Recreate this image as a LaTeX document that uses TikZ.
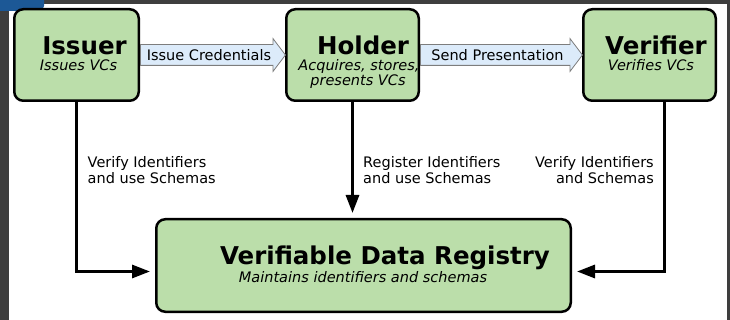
\documentclass[tikz,border=0pt]{standalone}
\usepackage{fontspec}
\setmainfont{DejaVu Sans}
\usetikzlibrary{shapes.arrows,arrows.meta}
\definecolor{boxgreen}{RGB}{187,222,170}
\definecolor{flowblue}{RGB}{220,235,250}
\definecolor{flowgray}{RGB}{125,125,125}
\definecolor{backdrop}{RGB}{62,62,62}
\definecolor{tabblue}{RGB}{28,88,150}

\begin{document}
\begin{tikzpicture}[x=1pt,y=-1pt]
	\tikzstyle{actor} = [draw,rectangle,rounded corners=9,line width=2.5pt,fill=boxgreen,minimum height=91.5,minimum width=132.5]
	\tikzstyle{title} = [anchor=base,inner sep=0,font=\fontsize{24.5}{28}\selectfont\bfseries]
	\tikzstyle{role} = [anchor=base,inner sep=0,font=\fontsize{14.5}{17}\selectfont\itshape]
	\tikzstyle{flow} = [single arrow,draw=flowgray,fill=flowblue,line width=0.8pt,anchor=tail,single arrow head extend=6,single arrow tip angle=106,text height=12,text depth=0.5,inner ysep=3.75,inner xsep=2,font=\fontsize{14.5}{17}\selectfont]
	\tikzstyle{note} = [inner sep=0,align=left,font=\fontsize{14.5}{15.5}\selectfont]
	\tikzstyle{conn} = [line width=3pt,-{Triangle[length=18pt,width=13pt]}]
	
	\useasboundingbox (0,0) rectangle (730,320);
	\fill[backdrop] (0,0) rectangle (730,320);
	\fill[white] (9,4) rectangle (727,320);
	\fill[tabblue,rounded corners=5] (-6,-6) rectangle (44,11);
	
	\node[actor,minimum width=124.5](issuer) at (76.5,55){};
	\node[actor](holder) at (352.5,55){};
	\node[actor](verifier) at (649.5,55){};
	\node[actor,minimum width=414.5,minimum height=92.5](vdr) at (363.5,265.5){};
	
	\node[title](issuer-t) at (84.5,55) {Issuer};
	\node[role](issuer-r) at (78.5,70.5) {Issues VCs};
	\node[title](holder-t) at (363,55) {Holder};
	\node[role](holder-r1) at (359,71) {Acquires, stores,};
	\node[role](holder-r2) at (358,86) {presents VCs};
	\node[title](verifier-t) at (656,55) {Verifier};
	\node[role](verifier-r) at (651,70.5) {Verifies VCs};
	\node[title](vdr-t) at (385,264.5) {Verifiable Data Registry};
	\node[role](vdr-r) at (363,282) {Maintains identifiers and schemas};
	
	\node[flow,minimum height=145](issue) at (issuer.east) {Issue Credentials};
	\node[flow,minimum height=162](send) at (holder.east) {Send Presentation};
	
	\draw[conn] (issuer.south) |- ([shift={(-5,6)}]vdr.west);
	\path[conn] (holder.south) edge ([yshift=5]holder.south |- vdr.north);
	\draw[conn] ([xshift=15]verifier.south) |- ([shift={(5,6)}]vdr.east);
	
	\node[note,anchor=west](n-issuer) at (87.5,170) {Verify Identifiers\\and use Schemas};
	\node[note,anchor=west](n-holder) at (363,170) {Register Identifiers\\and use Schemas};
	\node[note,anchor=east,align=right](n-verifier) at (654,170) {Verify Identifiers\\and Schemas};
\end{tikzpicture}
\end{document}
